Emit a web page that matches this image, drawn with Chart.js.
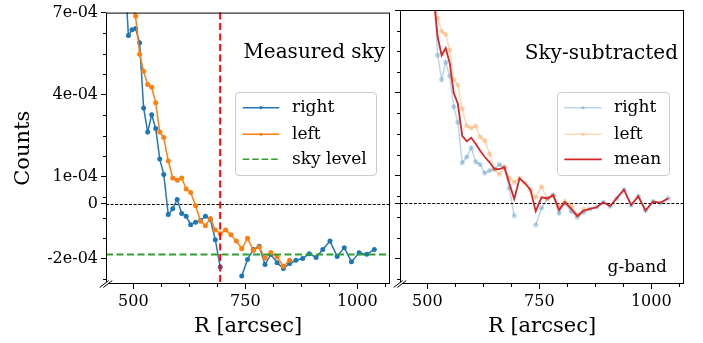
<!DOCTYPE html>
<html>
<head>
<meta charset="utf-8">
<script src="https://cdn.jsdelivr.net/npm/chart.js@4.4.1/dist/chart.umd.min.js"></script>
<style>
  html, body { margin: 0; padding: 0; background: #fff; }
  #fig { position: relative; width: 703px; height: 343px; overflow: hidden; font-family: 'DejaVu Serif', serif; color: #000; }
  canvas { position: absolute; top: 0; }
  .txt { position: absolute; white-space: nowrap; line-height: 1; }
  .title { font-size: 20px; line-height: 20px; }
  .leg { position: absolute; background: rgba(255,255,255,0.8); border: 1px solid #cccccc; border-radius: 4px; box-sizing: border-box; }
  .leg svg { position: absolute; left: 0; top: 0; }
  .legtxt { font-size: 17px; line-height: 17px; }
</style>
</head>
<body>
<div id="fig">
  <canvas id="measured" width="395" height="343" style="left:0"></canvas>
  <canvas id="subtracted" width="315" height="343" style="left:388px"></canvas>

  <div class="txt title" style="right:318px; top:41px">Measured sky</div>
  <div class="txt title" style="right:25px; top:42px">Sky-subtracted</div>
  <div class="txt legtxt" style="right:36px; top:258px">g-band</div>

  <div class="leg" style="left:235px; top:92px; width:142px; height:84px">
    <svg width="142" height="84">
      <line x1="6.7" y1="14.7" x2="43.3" y2="14.7" stroke="#1f77b4" stroke-width="1.5"/>
      <circle cx="25" cy="14.7" r="1.6" fill="#1f77b4"/>
      <line x1="6.7" y1="41.3" x2="43.3" y2="41.3" stroke="#ff7f0e" stroke-width="1.5"/>
      <circle cx="25" cy="41.3" r="1.6" fill="#ff7f0e"/>
      <line x1="6.7" y1="66.3" x2="43.3" y2="66.3" stroke="#2ca02c" stroke-width="1.6" stroke-dasharray="6.5 3"/>
    </svg>
  </div>
  <div class="txt legtxt" style="left:292px; top:98px">right</div>
  <div class="txt legtxt" style="left:292px; top:125px">left</div>
  <div class="txt legtxt" style="left:292px; top:150px">sky level</div>

  <div class="leg" style="left:557px; top:92px; width:113px; height:84px">
    <svg width="113" height="84">
      <line x1="6.3" y1="14.7" x2="43.7" y2="14.7" stroke="rgba(31,119,180,0.3)" stroke-width="1.5"/>
      <circle cx="25" cy="14.7" r="1.6" fill="rgba(31,119,180,0.3)"/>
      <line x1="6.3" y1="41.3" x2="43.7" y2="41.3" stroke="rgba(255,127,14,0.3)" stroke-width="1.5"/>
      <circle cx="25" cy="41.3" r="1.6" fill="rgba(255,127,14,0.3)"/>
      <line x1="6.3" y1="66.3" x2="43.7" y2="66.3" stroke="#d62728" stroke-width="1.8"/>
    </svg>
  </div>
  <div class="txt legtxt" style="left:614px; top:98px">right</div>
  <div class="txt legtxt" style="left:614px; top:125px">left</div>
  <div class="txt legtxt" style="left:614px; top:150px">mean</div>
</div>

<script>
// radial bins [arcsec]
const radii = [481, 489, 497, 505, 514, 523, 532, 541, 550, 559, 568, 578, 588, 598, 608, 618,
    628, 639, 650, 661, 672, 683, 694, 706, 718, 730, 742, 755, 768, 781, 794, 807, 821, 835,
    849, 863, 878, 893, 908, 923, 939, 955, 971, 987, 1004, 1021, 1038];

// measured sky, in units of 1e-4 counts
const skyRight = [8.5, 6.16, 6.37, 6.42, 5.90, 3.51, 2.63, 3.26, 2.76, 1.64, 1.08, -0.39, -0.18, 0.16,
    -0.35, -0.45, -0.76, -0.67, -0.61, -0.45, -0.57, -1.31, -2.31, null, null, null, -2.64, -2.03,
    -1.67, -1.55, -2.22, -1.85, -2.15, -2.36, -2.18, -2.06, -2.00, -1.82, -1.96, -1.67, -1.36,
    -1.92, -1.60, -2.12, -1.79, -1.84, -1.67];
const skyLeft = [null, null, 7.4, 6.88, 5.48, 4.85, 4.37, 4.27, 3.70, 2.63, 2.43, 1.57, 0.95, 0.87,
    0.95, 0.55, 0.42, -0.07, -0.63, -0.80, -0.53, -0.95, -1.09, -0.95, -1.13, -1.36, -1.64, -1.26,
    -1.70, -1.58, -1.98, -1.78, -1.94, -2.28, -2.06, null, null, null, null, null, null, null,
    null, null, null, null, null];

// sky-subtracted profiles, same units
const subRight = [10.35, 8.01, 8.22, 8.27, 7.75, 5.36, 4.48, 5.11, 4.61, 3.49, 2.93, 1.46, 1.67, 2.01,
    1.50, 1.40, 1.09, 1.18, 1.24, 1.40, 1.28, 0.54, -0.46, null, null, null, -0.79, -0.18, 0.18,
    0.30, -0.37, 0.00, -0.30, -0.51, -0.33, -0.21, -0.15, 0.03, -0.11, 0.18, 0.49, -0.07, 0.25,
    -0.27, 0.06, 0.01, 0.18];
const subLeft = [null, null, 9.25, 8.73, 7.33, 6.70, 6.22, 6.12, 5.55, 4.48, 4.28, 3.42, 2.80, 2.72,
    2.80, 2.40, 2.27, 1.78, 1.22, 1.05, 1.32, 0.90, 0.76, 0.90, 0.72, 0.49, 0.21, 0.59, 0.15, 0.27,
    -0.13, 0.07, -0.09, -0.43, -0.21, null, null, null, null, null, null, null, null, null, null,
    null, null];
const subMean = [10.35, 8.01, 8.74, 8.50, 7.54, 6.03, 5.35, 5.62, 5.08, 3.99, 3.61, 2.44, 2.24, 2.37,
    2.15, 1.90, 1.68, 1.48, 1.23, 1.23, 1.30, 0.72, 0.15, 0.90, 0.72, 0.49, -0.29, 0.21, 0.17, 0.29,
    -0.25, 0.04, -0.20, -0.47, -0.27, -0.21, -0.15, 0.03, -0.11, 0.18, 0.49, -0.07, 0.25, -0.27,
    0.06, 0.01, 0.18];

const skyLevel = -1.85;   // 1e-4 counts
const skyRadius = 694;    // arcsec

const xTicks = [500, 750, 1000];
const xMinor = [562.5, 625, 687.5, 812.5, 875, 937.5, 1062.5];
const yTicks = [-2, 0, 1, 4, 7];
const yTickLabels = ['-2e-04', '0', '1e-04', '4e-04', '7e-04'];
const yMinor = [-2.75, -1.25, -0.5, 0.25, 1.75, 2.5, 3.25, 4.75, 5.5, 6.25];

const FONT = 'DejaVu Serif';
const pts = vals => radii.map((r, i) => ({ x: r, y: vals[i] }));

// frame, minor ticks, broken-axis marks, reference lines
const axesDecor = {
    id: 'axesDecor',
    beforeDatasetsDraw(chart) {
        const { ctx, chartArea: a, scales: { y } } = chart;
        const y0 = Math.round(y.getPixelForValue(0)) + 0.5;
        ctx.save();
        ctx.strokeStyle = '#000';
        ctx.lineWidth = 1;
        ctx.setLineDash([3, 1.6]);
        ctx.beginPath();
        ctx.moveTo(a.left, y0);
        ctx.lineTo(a.right, y0);
        ctx.stroke();
        ctx.restore();
    },
    afterDatasetsDraw(chart, args, opts) {
        if (!opts.sky) return;
        const { ctx, chartArea: a, scales: { x, y } } = chart;
        ctx.save();
        ctx.lineWidth = 2;
        ctx.setLineDash([7, 3.5]);
        const ys = y.getPixelForValue(skyLevel);
        ctx.strokeStyle = '#2ca02c';
        ctx.beginPath();
        ctx.moveTo(a.left, ys);
        ctx.lineTo(a.right, ys);
        ctx.stroke();
        const xs = x.getPixelForValue(skyRadius);
        ctx.strokeStyle = '#ff0000';
        ctx.beginPath();
        ctx.moveTo(xs, a.top);
        ctx.lineTo(xs, a.bottom);
        ctx.stroke();
        ctx.restore();
    },
    afterDraw(chart) {
        const { ctx, chartArea: a, scales: { x, y } } = chart;
        ctx.save();
        ctx.strokeStyle = '#000';
        ctx.lineWidth = 1;
        ctx.strokeRect(a.left + 0.5, a.top + 0.5, a.right - a.left - 1, a.bottom - a.top - 1);
        ctx.beginPath();
        xMinor.forEach(v => {
            const px = Math.round(x.getPixelForValue(v)) + 0.5;
            ctx.moveTo(px, a.bottom);
            ctx.lineTo(px, a.bottom + 3);
        });
        yMinor.forEach(v => {
            const py = Math.round(y.getPixelForValue(v)) + 0.5;
            ctx.moveTo(a.left, py);
            ctx.lineTo(a.left - 3, py);
        });
        ctx.stroke();
        // broken axis marks
        ctx.fillStyle = '#fff';
        ctx.fillRect(a.left - 3, a.bottom - 2, 6, 4);
        ctx.beginPath();
        [-1.8, 1.8].forEach(d => {
            ctx.moveTo(a.left + d - 4.5, a.bottom + 3.5);
            ctx.lineTo(a.left + d + 4.5, a.bottom - 3.5);
        });
        ctx.stroke();
        ctx.restore();
    }
};

function makeScales(yLabels, yWidth) {
    return {
        x: {
            type: 'linear',
            min: 439,
            max: 1073,
            afterBuildTicks: s => { s.ticks = xTicks.map(v => ({ value: v })); },
            afterFit: s => { s.height = 59; },
            grid: { drawOnChartArea: false, drawTicks: true, tickLength: 5, color: '#000', tickColor: '#000' },
            border: { display: false },
            ticks: { color: '#000', padding: 3, maxRotation: 0, font: { family: FONT, size: 16 },
                     callback: v => String(v) },
            title: { display: true, text: 'R [arcsec]', color: '#000', padding: { top: 0, bottom: 4 },
                     font: { family: FONT, size: 21 } }
        },
        y: {
            type: 'linear',
            min: -2.93,
            max: 7,
            afterBuildTicks: s => { s.ticks = yTicks.map(v => ({ value: v })); },
            afterFit: s => { s.width = yWidth; },
            grid: { drawOnChartArea: false, drawTicks: true, tickLength: 5, color: '#000', tickColor: '#000' },
            border: { display: false },
            ticks: {
                display: yLabels,
                color: '#000',
                padding: 3,
                font: { family: FONT, size: 16 },
                callback: v => yTickLabels[yTicks.indexOf(v)]
            },
            title: { display: yLabels, text: 'Counts', color: '#000', padding: { top: 11, bottom: 0 },
                     font: { family: FONT, size: 21 } }
        }
    };
}

function makeChart(id, datasets, yLabels, yWidth, padding, sky) {
    return new Chart(document.getElementById(id), {
        type: 'line',
        data: { datasets },
        options: {
            responsive: false,
            animation: false,
            events: [],
            devicePixelRatio: 1,
            layout: { padding },
            elements: { line: { tension: 0 } },
            plugins: { legend: { display: false }, tooltip: { enabled: false }, axesDecor: { sky } },
            scales: makeScales(yLabels, yWidth)
        },
        plugins: [axesDecor]
    });
}

const lineSet = (label, vals, color, extra) => Object.assign({
    label,
    data: pts(vals),
    borderColor: color,
    backgroundColor: color,
    pointBackgroundColor: color,
    borderWidth: 1.5,
    pointRadius: 2.5,
    pointBorderWidth: 0,
    spanGaps: false,
    clip: 0
}, extra);

makeChart('measured', [
    lineSet('right', skyRight, '#1f77b4', { order: 2 }),
    lineSet('left', skyLeft, '#ff7f0e', { order: 1 })
], true, 106, { left: 0, right: 5, top: 10, bottom: 0 }, true);

makeChart('subtracted', [
    lineSet('right', subRight, 'rgba(31,119,180,0.3)', { order: 3 }),
    lineSet('left', subLeft, 'rgba(255,127,14,0.3)', { order: 2 }),
    lineSet('mean', subMean, '#d62728', { order: 1, pointRadius: 0, borderWidth: 1.8 })
], false, 5, { left: 7, right: 19, top: 10, bottom: 0 }, false);
</script>
</body>
</html>
